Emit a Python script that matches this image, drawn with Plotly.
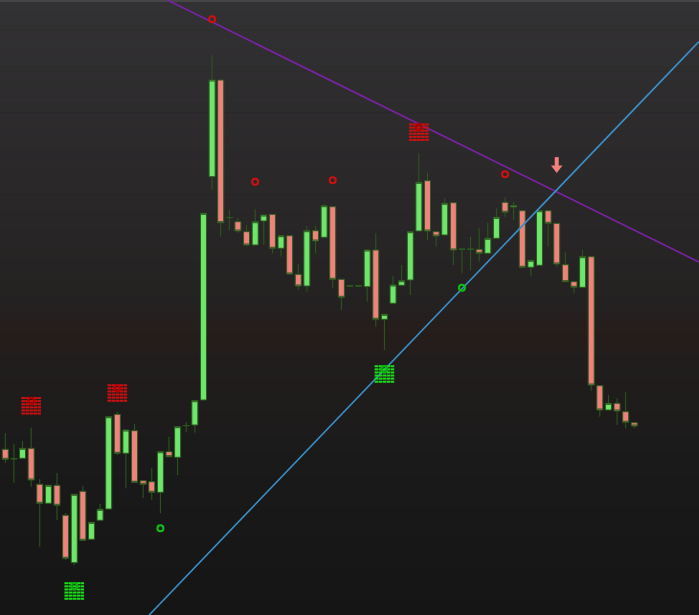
import plotly.graph_objects as go

# ---------------- data (price units) ----------------
bar_index = list(range(74))
opens = [165.7, 156.0, 156.7, 166.7, 130.7, 111.7, 129.7, 99.7, 52.3, 123.7,
         75.7, 94.7, 106.0, 200.7, 161.7, 184.3, 134.3, 133.3, 122.7, 163.3,
         157.7, 189.3, 190.0, 215.0, 438.3, 535.0, 397.3, 393.3, 383.3, 370.0,
         394.0, 400.7, 366.7, 379.3, 340.7, 329.0, 384.3, 377.7, 408.3, 335.7,
         329.0, 329.0, 328.3, 365.0, 295.7, 311.7, 329.7, 335.0, 384.0, 434.3,
         383.3, 380.0, 412.3, 365.7, 365.7, 365.7, 361.7, 376.7, 412.7, 408.0,
         404.3, 347.7, 349.7, 404.3, 391.7, 350.3, 333.3, 327.7, 358.3, 229.3,
         205.0, 211.7, 203.3, 192.3]
highs = [182.0, 171.0, 174.0, 187.3, 136.0, 129.7, 142.0, 102.0, 121.0, 129.0,
         92.7, 111.0, 198.3, 203.0, 185.0, 191.0, 135.0, 147.0, 164.0, 178.3,
         189.0, 193.0, 215.0, 401.7, 560.0, 535.0, 405.0, 397.0, 390.0, 405.7,
         400.0, 401.0, 380.0, 380.0, 351.0, 389.0, 389.0, 411.0, 409.0, 336.0,
         329.0, 329.5, 365.0, 381.7, 301.0, 339.0, 350.0, 384.0, 461.7, 442.3,
         384.0, 416.7, 413.0, 366.0, 378.3, 386.7, 392.3, 406.7, 417.7, 413.3,
         404.3, 355.0, 404.3, 405.0, 392.0, 363.3, 334.0, 365.0, 359.0, 230.0,
         220.0, 216.7, 223.3, 193.0]
lows = [152.0, 132.0, 156.7, 128.3, 68.3, 111.7, 95.0, 55.0, 50.0, 74.0,
        75.7, 94.7, 106.0, 160.0, 126.7, 132.7, 117.0, 115.0, 101.7, 158.0,
        140.0, 183.0, 182.3, 215.0, 425.0, 378.3, 385.0, 382.0, 369.0, 370.0,
        370.0, 361.7, 358.3, 340.0, 325.0, 323.3, 361.7, 377.0, 326.7, 305.0,
        328.0, 328.5, 313.3, 288.3, 265.0, 311.7, 329.7, 320.0, 384.0, 375.0,
        368.3, 380.0, 350.0, 341.7, 345.0, 353.3, 361.7, 376.7, 398.3, 395.0,
        347.7, 338.3, 349.7, 368.3, 348.0, 333.0, 321.7, 327.7, 224.3, 198.3,
        205.0, 190.0, 186.7, 186.7]
closes = [155.7, 156.5, 166.7, 135.0, 111.7, 129.7, 109.7, 56.7, 120.7, 74.7,
          92.7, 105.7, 198.3, 161.7, 185.0, 132.7, 130.7, 122.7, 163.3, 158.3,
          188.3, 189.5, 214.3, 401.7, 535.0, 392.3, 397.5, 384.0, 370.0, 393.3,
          400.0, 366.7, 379.3, 341.0, 329.0, 384.3, 374.0, 409.3, 335.7, 317.7,
          329.2, 329.2, 365.0, 295.7, 300.7, 330.0, 334.3, 383.3, 432.7, 384.0,
          379.0, 411.7, 365.0, 365.9, 365.9, 361.7, 376.7, 397.7, 402.7, 409.5,
          347.7, 354.7, 404.3, 391.7, 351.0, 333.3, 327.7, 358.3, 230.0, 205.0,
          211.7, 204.0, 192.7, 189.0]

# trend lines: (bar index, price) end points
down_trend_x = [18.8, 80.5]
down_trend_y = [615.0, 353.0]
up_trend_x = [16.7, 80.5]
up_trend_y = [0.0, 573.4]

# signal boxes (bar index, price level)
sell_box_idx = [3, 13, 48]
sell_box_price = [209.2, 222.0, 482.8]
buy_box_idx = [8, 44]
buy_box_price = [24.0, 241.0]

# small circle signals
sell_dot_idx = [24, 29, 38, 58]
sell_dot_price = [595.7, 433.3, 434.7, 440.7]
buy_dot_idx = [18, 53]
buy_dot_price = [86.7, 327.3]

# arrow signal
arrow_idx = [64]
arrow_price = [450.0]

# ---------------- figure ----------------
W, H = 699, 615
X_RANGE = [-0.615, 80.51]
Y_RANGE = [0, 615]
px_per_bar = W / (X_RANGE[1] - X_RANGE[0])

fig = go.Figure()

# background gradient (styling only)
stops = [(0.0, (50, 49, 51)), (0.30, (42, 40, 41)), (0.50, (36, 33, 33)),
         (0.545, (38, 29, 27)), (0.59, (33, 29, 29)), (0.75, (27, 26, 26)),
         (1.0, (21, 21, 21))]
N = 120
for k in range(N):
    t0 = k / N
    t1 = (k + 1) / N
    tm = (t0 + t1) / 2
    for j in range(len(stops) - 1):
        if stops[j][0] <= tm <= stops[j + 1][0]:
            a, ca = stops[j]
            b, cb = stops[j + 1]
            f = (tm - a) / (b - a)
            col = tuple(int(round(ca[i] + (cb[i] - ca[i]) * f)) for i in range(3))
            break
    fig.add_shape(type="rect", xref="paper", yref="paper",
                  x0=0, x1=1, y0=1 - t1, y1=1 - t0 + 0.001,
                  fillcolor="rgb(%d,%d,%d)" % col, line_width=0, layer="below")
fig.add_shape(type="rect", xref="paper", yref="paper", x0=0, x1=1,
              y0=1 - 2 / H, y1=1, fillcolor="rgb(70,70,72)", line_width=0, layer="below")

# trend lines
fig.add_trace(go.Scatter(x=down_trend_x, y=down_trend_y, mode="lines",
                         line=dict(color="#7b22a6", width=1.6), hoverinfo="skip"))
fig.add_trace(go.Scatter(x=up_trend_x, y=up_trend_y, mode="lines",
                         line=dict(color="#3c8ec6", width=1.6), hoverinfo="skip"))

# candles
fig.add_trace(go.Candlestick(
    x=bar_index, open=opens, high=highs, low=lows, close=closes,
    increasing=dict(line=dict(color="#2c5a1e", width=1), fillcolor="#6ee66e"),
    decreasing=dict(line=dict(color="#2c5a1e", width=1), fillcolor="#f0827e"),
    whiskerwidth=0,
))


def box_grid(idx_list, price_list):
    xs, ys = [], []
    dx = 4.0 / px_per_bar
    for cx, cy in zip(idx_list, price_list):
        for r in range(6):
            for c in range(5):
                xs.append(cx + (c - 2) * dx)
                ys.append(cy + (2.5 - r) * 3.1)
    return xs, ys


for idxs, prices, col, ocol in [(sell_box_idx, sell_box_price, "#d01010", "#b00000"),
                                (buy_box_idx, buy_box_price, "#19e019", "#10b010")]:
    gx, gy = box_grid(idxs, prices)
    fig.add_trace(go.Scatter(x=gx, y=gy, mode="markers", hoverinfo="skip",
                             marker=dict(symbol="line-ew", size=2.6, color=col,
                                         line=dict(color=col, width=2))))
    fig.add_trace(go.Scatter(x=idxs, y=[p + 5 for p in prices], mode="markers",
                             hoverinfo="skip",
                             marker=dict(symbol="circle-open", size=6, color=ocol,
                                         line=dict(color=ocol, width=2))))

fig.add_trace(go.Scatter(x=sell_dot_idx, y=sell_dot_price, mode="markers",
                         hoverinfo="skip",
                         marker=dict(symbol="circle-open", size=6, color="#d01010",
                                     line=dict(color="#d01010", width=2))))
fig.add_trace(go.Scatter(x=buy_dot_idx, y=buy_dot_price, mode="markers",
                         hoverinfo="skip",
                         marker=dict(symbol="circle-open", size=6, color="#10c010",
                                     line=dict(color="#10c010", width=2))))

# arrow: shaft + head
fig.add_trace(go.Scatter(x=arrow_idx, y=[p + 3 for p in arrow_price], mode="markers",
                         hoverinfo="skip",
                         marker=dict(symbol="line-ns", size=7, color="#f2807c",
                                     line=dict(color="#f2807c", width=4))))
fig.add_trace(go.Scatter(x=arrow_idx, y=[p - 3 for p in arrow_price], mode="markers",
                         hoverinfo="skip",
                         marker=dict(symbol="triangle-down", size=10, color="#f2807c",
                                     line=dict(width=0))))

fig.update_layout(
    width=W, height=H, margin=dict(l=0, r=0, t=0, b=0),
    paper_bgcolor="#1a1a1a", plot_bgcolor="rgba(0,0,0,0)",
    showlegend=False, boxgap=0.3, boxgroupgap=0.0,
    xaxis=dict(range=X_RANGE, visible=False, showgrid=False, zeroline=False,
               rangeslider=dict(visible=False), fixedrange=True),
    yaxis=dict(range=Y_RANGE, visible=False, showgrid=False, zeroline=False,
               fixedrange=True),
)

fig.write_html("out.html", config=dict(displayModeBar=False),
               post_script="document.body.style.margin='0';"
                           "document.body.style.background='#1a1a1a';")
